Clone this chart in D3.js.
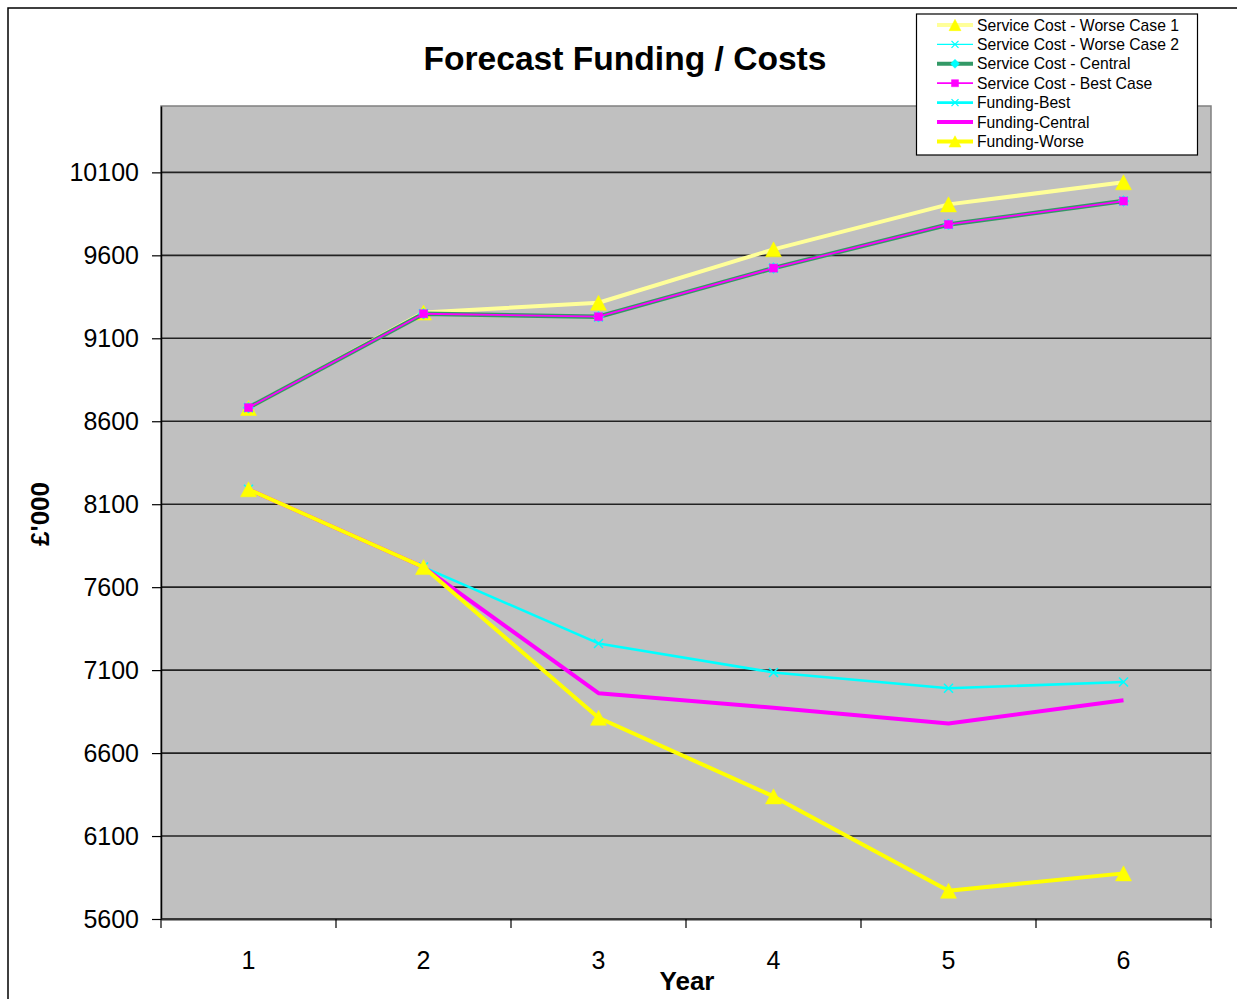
<!DOCTYPE html>
<html>
<head>
<meta charset="utf-8">
<script src="https://cdn.jsdelivr.net/npm/d3@7"></script>
<style>
  html, body { margin: 0; padding: 0; background: #fff; }
  svg { display: block; font-family: "Liberation Sans", Arial, sans-serif; }
</style>
</head>
<body>
<svg id="chart" width="1237" height="999"></svg>
<script>
// ---------- DATA ----------
const years = [1, 2, 3, 4, 5, 6];
const yTicks = [5600, 6100, 6600, 7100, 7600, 8100, 8600, 9100, 9600, 10100];
const yMin = 5600, yMax = 10500;

const serviceCostWorse1 = [8680, 9255, 9314, 9636, 9907, 10040];
const serviceCostWorse2 = [8682, 9248, 9228, 9523, 9786, 9927];
const serviceCostCentral = [8682, 9248, 9230, 9523, 9786, 9927];
const serviceCostBest = [8682, 9248, 9230, 9523, 9786, 9927];
const fundingBest = [8190, 7721, 7261, 7086, 6991, 7028];
const fundingCentral = [8190, 7721, 6961, 6873, 6778, 6919];
const fundingWorse = [8190, 7721, 6813, 6339, 5770, 5875];

const seriesNames = [
  "Service Cost - Worse Case 1",
  "Service Cost - Worse Case 2",
  "Service Cost - Central",
  "Service Cost - Best Case",
  "Funding-Best",
  "Funding-Central",
  "Funding-Worse"
];
const titleText = "Forecast Funding / Costs";
const xTitle = "Year";
const yTitle = "£'000";

// ---------- STYLES ----------
const seriesValues = [serviceCostWorse1, serviceCostWorse2, serviceCostCentral, serviceCostBest,
                      fundingBest, fundingCentral, fundingWorse];
const styles = [
  { line: "#FFFF99", width: 4,   marker: "triangle", mfill: "#FFFF00", mstroke: "#FFFF00" },
  { line: "#00FFFF", width: 1.2, marker: "x",        mfill: "none",    mstroke: "#00FFFF" },
  { line: "#339966", width: 4.5, marker: "diamond",  mfill: "#00FFFF", mstroke: "#00FFFF" },
  { line: "#FF00FF", width: 1.8, marker: "square",   mfill: "#FF00FF", mstroke: "#FF00FF" },
  { line: "#00FFFF", width: 2.6, marker: "x",        mfill: "none",    mstroke: "#00FFFF" },
  { line: "#FF00FF", width: 4,   marker: null },
  { line: "#FFFF00", width: 4,   marker: "triangle", mfill: "#FFFF00", mstroke: "#FFFF00" }
];

const series = seriesNames.map((name, i) => ({ name, values: seriesValues[i], style: styles[i] }));

// ---------- LAYOUT ----------
const plot = { left: 161, right: 1211, top: 106, bottom: 919 };
const svg = d3.select("#chart");

// outer border
svg.append("rect").attr("x", 8).attr("y", 8).attr("width", 1260).attr("height", 1020)
  .attr("fill", "#fff").attr("stroke", "#000").attr("stroke-width", 1.5);

const x = d3.scaleBand().domain(years).range([plot.left, plot.right]).padding(0);
const y = d3.scaleLinear().domain([yMin, yMax]).range([plot.bottom, plot.top]);
const cx = d => x(d) + x.bandwidth() / 2;

// plot area
svg.append("rect").attr("x", plot.left).attr("y", plot.top)
  .attr("width", plot.right - plot.left).attr("height", plot.bottom - plot.top)
  .attr("fill", "#C0C0C0").attr("stroke", "#808080").attr("stroke-width", 1.5);

// gridlines
svg.append("g").selectAll("line").data(yTicks).join("line")
  .attr("x1", plot.left).attr("x2", plot.right)
  .attr("y1", d => y(d)).attr("y2", d => y(d))
  .attr("stroke", "#222").attr("stroke-width", 1.6);

// y axis
const yAxis = svg.append("g").attr("transform", `translate(${plot.left},0)`)
  .call(d3.axisLeft(y).tickValues(yTicks).tickSize(9).tickSizeOuter(0).tickPadding(13).tickFormat(d3.format("d")));
yAxis.select(".domain").attr("stroke", "#000").attr("stroke-width", 1.5);
yAxis.selectAll(".tick line").attr("stroke", "#000").attr("stroke-width", 1.2);
yAxis.selectAll("text").attr("font-size", 25).attr("fill", "#000")
  .attr("font-family", "'Liberation Sans', Arial, sans-serif").attr("dy", "0.34em");

// x axis labels
const xAxis = svg.append("g").attr("transform", `translate(0,${plot.bottom})`)
  .call(d3.axisBottom(x).tickSize(0).tickPadding(32));
xAxis.select(".domain").attr("stroke", "#333").attr("stroke-width", 2);
xAxis.selectAll("text").attr("font-size", 25).attr("fill", "#000")
  .attr("font-family", "'Liberation Sans', Arial, sans-serif");
// x boundary ticks
const boundaries = years.map(d => x(d)).concat([x.range()[1]]);
svg.append("g").selectAll("line").data(boundaries).join("line")
  .attr("x1", d => d).attr("x2", d => d)
  .attr("y1", plot.bottom).attr("y2", plot.bottom + 9)
  .attr("stroke", "#000").attr("stroke-width", 1.2);

// ---------- MARKERS ----------
function markerPath(type, px, py, s) {
  const p = d3.path();
  if (type === "triangle") {
    const w = s, h = s * 0.94;
    p.moveTo(px, py - h / 2); p.lineTo(px + w / 2, py + h / 2); p.lineTo(px - w / 2, py + h / 2); p.closePath();
  } else if (type === "square") {
    const h = s / 2;
    p.rect(px - h, py - h, s, s);
  } else if (type === "diamond") {
    const h = s / 2;
    p.moveTo(px, py - h); p.lineTo(px + h, py); p.lineTo(px, py + h); p.lineTo(px - h, py); p.closePath();
  } else if (type === "x") {
    const h = s / 2;
    p.moveTo(px - h, py - h); p.lineTo(px + h, py + h);
    p.moveTo(px + h, py - h); p.lineTo(px - h, py + h);
  }
  return p.toString();
}
const markerSize = { triangle: 16, square: 8, diamond: 11, x: 9 };
const legendMarkerSize = { triangle: 12, square: 7, diamond: 9, x: 7 };

// ---------- SERIES ----------
const line = d3.line().x((v, i) => cx(years[i])).y(v => y(v));
const gSeries = svg.append("g");
series.forEach(s => {
  const g = gSeries.append("g");
  g.append("path").attr("d", line(s.values)).attr("fill", "none")
    .attr("stroke", s.style.line).attr("stroke-width", s.style.width)
    .attr("stroke-linejoin", "round").attr("stroke-linecap", "butt");
  if (s.style.marker) {
    g.selectAll("path.m").data(s.values).join("path").attr("class", "m")
      .attr("d", (v, i) => markerPath(s.style.marker, cx(years[i]), y(v), markerSize[s.style.marker]))
      .attr("fill", s.style.mfill).attr("stroke", s.style.mstroke)
      .attr("stroke-width", s.style.marker === "x" ? 1.5 : 0.5);
  }
});

// ---------- TITLES ----------
svg.append("text").attr("x", 625).attr("y", 70).attr("text-anchor", "middle")
  .attr("font-size", 33.6).attr("font-weight", "bold").text(titleText);
svg.append("text").attr("x", 687).attr("y", 990).attr("text-anchor", "middle")
  .attr("font-size", 26).attr("font-weight", "bold").text(xTitle);
svg.append("text").attr("transform", "translate(49,514) rotate(-90)").attr("text-anchor", "middle")
  .attr("font-size", 26).attr("font-weight", "bold").text(yTitle);

// ---------- LEGEND ----------
const legend = { x: 916.5, y: 14, w: 281, h: 141, row0: 25, step: 19.4 };
svg.append("rect").attr("x", legend.x).attr("y", legend.y).attr("width", legend.w).attr("height", legend.h)
  .attr("fill", "#fff").attr("stroke", "#000").attr("stroke-width", 1.2);
const lg = svg.append("g").selectAll("g").data(series).join("g")
  .attr("transform", (d, i) => `translate(0,${legend.row0 + i * legend.step})`);
lg.append("line").attr("x1", 937).attr("x2", 973).attr("y1", 0).attr("y2", 0)
  .attr("stroke", d => d.style.line).attr("stroke-width", d => Math.min(d.style.width, 4));
lg.filter(d => d.style.marker).append("path")
  .attr("d", d => markerPath(d.style.marker, 955, 0, legendMarkerSize[d.style.marker]))
  .attr("fill", d => d.style.mfill).attr("stroke", d => d.style.mstroke)
  .attr("stroke-width", d => d.style.marker === "x" ? 1.3 : 0.5);
lg.append("text").attr("x", 977).attr("y", 0).attr("dy", "0.35em")
  .attr("font-size", 15.7).attr("fill", "#000").text(d => d.name);
</script>
</body>
</html>
